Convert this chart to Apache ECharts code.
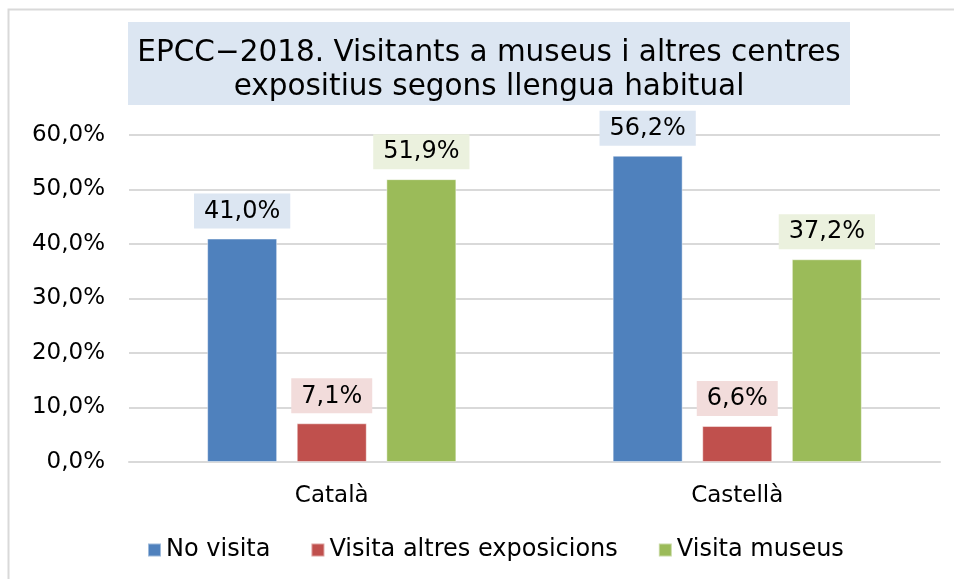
<!DOCTYPE html>
<html>
<head>
<meta charset="utf-8">
<script src="https://cdn.jsdelivr.net/npm/echarts@6/dist/echarts.min.js"></script>
<style>
  html, body { margin: 0; padding: 0; background: #fff; }
  #chart { width: 954px; height: 579px; }
</style>
</head>
<body>
<div id="chart"></div>
<script>
var categories = ['Català', 'Castellà'];
var seriesNames = ['No visita', 'Visita altres exposicions', 'Visita museus'];
var noVisita = [41.0, 56.2];
var altresExposicions = [7.1, 6.6];
var museus = [51.9, 37.2];
var yTicks = [0, 10, 20, 30, 40, 50, 60];

var colors = ['#4f81bd', '#c0504d', '#9bbb59'];
var labelBg = ['#dce6f2', '#f2dcdb', '#ebf1de'];
var font = 'DejaVu Sans, Verdana, sans-serif';

function fmt(v) {
  return v.toFixed(1).replace('.', ',') + '%';
}

function makeSeries(name, data, i) {
  return {
    name: name,
    type: 'bar',
    data: data,
    barWidth: 70,
    barGap: '28%',
    itemStyle: { color: colors[i], borderColor: 'rgba(255,255,255,0.45)', borderWidth: 1 },
    label: {
      show: true,
      position: 'top',
      distance: 10,
      formatter: function (p) { return fmt(p.value); },
      fontFamily: font,
      fontSize: 24,
      color: '#000',
      backgroundColor: labelBg[i],
      padding: [6, 10, 5, 10]
    }
  };
}

var chart = echarts.init(document.getElementById('chart'));
var option = {
  animation: false,
  backgroundColor: '#fff',
  color: colors,
  graphic: [
    { type: 'rect', z: -10, shape: { x: 8.5, y: 9.5, width: 1000, height: 700 },
      style: { fill: 'none', stroke: '#d9d9d9', lineWidth: 2 } },
    { type: 'rect', z: -5, shape: { x: 128, y: 22, width: 722, height: 83 },
      style: { fill: '#dce6f2' } }
  ],
  title: {
    text: 'EPCC\u22122018. Visitants a museus i altres centres\nexpositius segons llengua habitual',
    left: 489,
    top: 36,
    textAlign: 'center',
    padding: 0,
    textStyle: { fontFamily: font, fontSize: 29.5, fontWeight: 'normal', color: '#000', lineHeight: 34 }
  },
  legend: {
    data: seriesNames,
    bottom: 12,
    left: 142,
    icon: 'rect',
    itemWidth: 13,
    itemHeight: 13,
    itemGap: 40,
    textStyle: { fontFamily: font, fontSize: 24, color: '#000' }
  },
  grid: { left: 129, right: 14, top: 135, bottom: 117 },
  xAxis: {
    type: 'category',
    data: categories,
    axisLine: { lineStyle: { color: '#d9d9d9', width: 2 } },
    axisTick: { show: false },
    axisLabel: { fontFamily: font, fontSize: 23, color: '#000', margin: 23 }
  },
  yAxis: {
    type: 'value',
    min: yTicks[0],
    max: yTicks[yTicks.length - 1],
    interval: 10,
    axisLine: { show: false },
    axisTick: { show: false },
    splitLine: { lineStyle: { color: '#d9d9d9', width: 2 } },
    axisLabel: { fontFamily: font, fontSize: 23, color: '#000', margin: 24,
      formatter: function (v) { return fmt(v); } }
  },
  series: [
    makeSeries(seriesNames[0], noVisita, 0),
    makeSeries(seriesNames[1], altresExposicions, 1),
    makeSeries(seriesNames[2], museus, 2)
  ]
};
chart.setOption(option);
</script>
</body>
</html>
